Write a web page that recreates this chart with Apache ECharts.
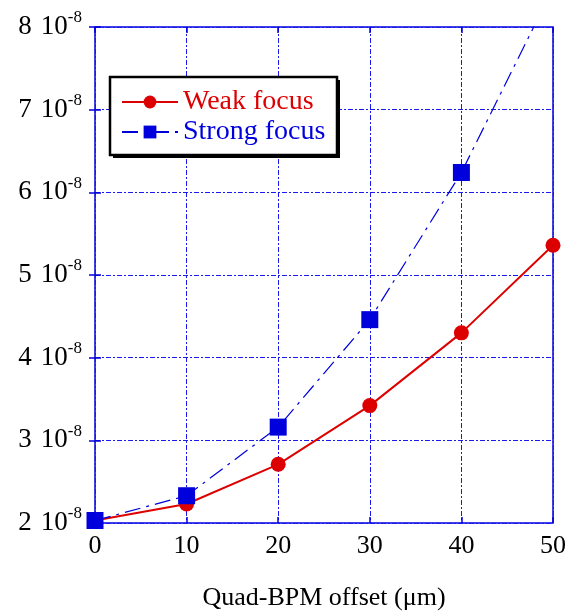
<!DOCTYPE html>
<html><head><meta charset="utf-8">
<script src="https://cdn.jsdelivr.net/npm/echarts@6/dist/echarts.min.js"></script>
<style>html,body{margin:0;padding:0;background:#fff}#c{width:569px;height:616px}</style>
</head><body><div id="c"></div>
<script>
// values in units of 1e-8
const offsets = [0, 10, 20, 30, 40, 50];
const weakFocus = [2.03, 2.23, 2.71, 3.42, 4.30, 5.36];
const strongFocus = [2.03, 2.33, 3.16, 4.46, 6.24, 8.47];
const yExponent = '-8';
const xTitle = 'Quad-BPM offset (\u03bcm)';
const FONT = '"Liberation Serif", "Times New Roman", serif';
const BLUE = '#0000dd';
const RED = '#dd0000';
const GRIDC = '#1a1aee';

const chart = echarts.init(document.getElementById('c'), null, {renderer: 'canvas'});
const mkGrid = () => ({show: true, lineStyle: {color: GRIDC, width: 1, type: [5, 2, 2, 2]}});
const mkTick = () => ({show: true, inside: true, length: 6, lineStyle: {color: BLUE, width: 1.5}});
chart.setOption({
  animation: false,
  grid: {left: 95, right: 13, top: 27, bottom: 91, show: true, borderColor: BLUE, borderWidth: 1.5},
  graphic: [
    {type: 'rect', z: 100, shape: {x: 113, y: 80, width: 227, height: 78}, style: {fill: '#000'}},
    {type: 'rect', z: 101, shape: {x: 110, y: 77, width: 227, height: 78}, style: {fill: '#fff', stroke: '#000', lineWidth: 2.5}}
  ],
  legend: {
    orient: 'vertical', left: 121, top: 88, z: 110,
    padding: 0, itemGap: 2,
    itemWidth: 56, itemHeight: 16,
    textStyle: {fontFamily: FONT, fontSize: 28, padding: [0, 0, 0, 0]},
    data: [
      {name: 'Weak focus', textStyle: {color: RED}},
      {name: 'Strong focus', textStyle: {color: BLUE}}
    ]
  },
  xAxis: [{
    type: 'value', min: 0, max: 50, interval: 10,
    name: xTitle, nameLocation: 'middle', nameGap: 62,
    nameTextStyle: {fontFamily: FONT, fontSize: 26, color: '#000'},
    axisLine: {show: false}, axisTick: mkTick(),
    axisLabel: {fontFamily: FONT, fontSize: 26, color: '#000', margin: 10},
    splitLine: mkGrid()
  }, {
    type: 'value', position: 'top', min: 0, max: 50, interval: 10,
    axisLine: {show: false}, axisTick: mkTick(),
    axisLabel: {show: false}, splitLine: {show: false}
  }],
  yAxis: [{
    type: 'value', min: 2, max: 8, interval: 1,
    axisLine: {show: false}, axisTick: mkTick(),
    axisLabel: {
      margin: 13, color: '#000',
      formatter: v => `{a|${v}}{c|10}{b|${yExponent}}`,
      rich: {
        a: {fontFamily: FONT, fontSize: 27, color: '#000', lineHeight: 27},
        c: {fontFamily: FONT, fontSize: 27, color: '#000', lineHeight: 27, padding: [0, 0, 0, 9]},
        b: {fontFamily: FONT, fontSize: 17, color: '#000', lineHeight: 27, padding: [0, 0, 18, 0]}
      }
    },
    splitLine: mkGrid()
  }, {
    type: 'value', position: 'right', min: 2, max: 8, interval: 1,
    axisLine: {show: false}, axisTick: mkTick(),
    axisLabel: {show: false}, splitLine: {show: false}
  }],
  series: [{
    name: 'Strong focus', type: 'line', z: 3,
    data: offsets.map((x, i) => [x, strongFocus[i]]),
    symbol: 'rect', symbolSize: 17, clip: true,
    itemStyle: {color: BLUE},
    lineStyle: {color: BLUE, width: 1.2, type: [16, 6, 3, 6]}
  }, {
    name: 'Weak focus', type: 'line', z: 2,
    data: offsets.map((x, i) => [x, weakFocus[i]]),
    symbol: 'circle', symbolSize: 15, clip: true,
    itemStyle: {color: RED},
    lineStyle: {color: RED, width: 2}
  }]
});
</script></body></html>
